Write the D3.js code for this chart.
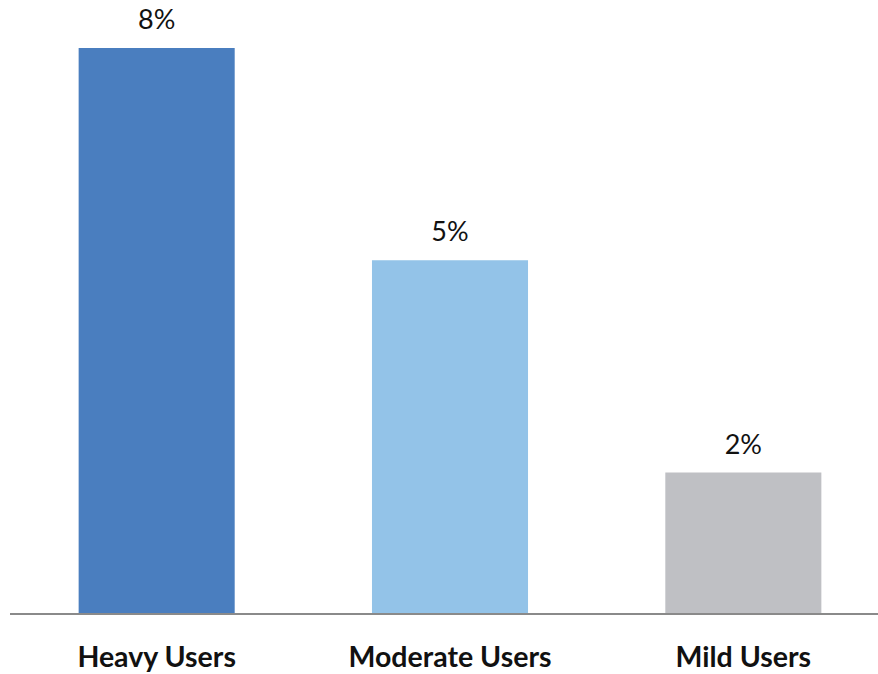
<!DOCTYPE html>
<html><head><meta charset="utf-8">
<script src="https://cdn.jsdelivr.net/npm/d3@7"></script>
<style>body{margin:0;background:#fff}svg{display:block}</style>
</head><body>
<svg id="c" width="878" height="674"></svg>
<script>
const categories = ["Heavy Users", "Moderate Users", "Mild Users"];
const values = [8, 5, 2];
const valueLabels = ["8%", "5%", "2%"];
const colors = ["#4A7EBF", "#93C3E8", "#BFC0C4"];

const svg = d3.select("#c");
const baseY = 614;
const x = d3.scaleBand().domain(categories).range([10, 890]).paddingInner(0.468).paddingOuter(0.234);
const y = d3.scaleLinear().domain([0, 8]).range([baseY, 48]);

svg.selectAll("rect.bar").data(categories).join("rect")
  .attr("class", "bar")
  .attr("x", d => x(d))
  .attr("width", x.bandwidth())
  .attr("y", (d, i) => y(values[i]))
  .attr("height", (d, i) => baseY - y(values[i]))
  .attr("fill", (d, i) => colors[i]);

svg.selectAll("text.val").data(categories).join("text")
  .attr("class", "val")
  .attr("x", d => x(d) + x.bandwidth() / 2)
  .attr("y", (d, i) => y(values[i]) - 19)
  .attr("text-anchor", "middle")
  .attr("font-family", "Lato, 'Open Sans', sans-serif")
  .attr("font-size", 27)
  .attr("fill", "#111")
  .text((d, i) => valueLabels[i]);

const axis = d3.axisBottom(x).tickSize(0).tickPadding(0);
const g = svg.append("g").attr("transform", `translate(0,${baseY})`).call(axis);
g.select(".domain").attr("stroke", "#8a8a8a").attr("stroke-width", 2).attr("d", "M10,0H878");
g.selectAll(".tick text")
  .attr("y", 53)
  .attr("dy", 0)
  .attr("font-family", "Lato, 'Open Sans', sans-serif")
  .attr("font-weight", "bold")
  .attr("font-size", 28.5)
  .attr("fill", "#111");
</script>
</body></html>
